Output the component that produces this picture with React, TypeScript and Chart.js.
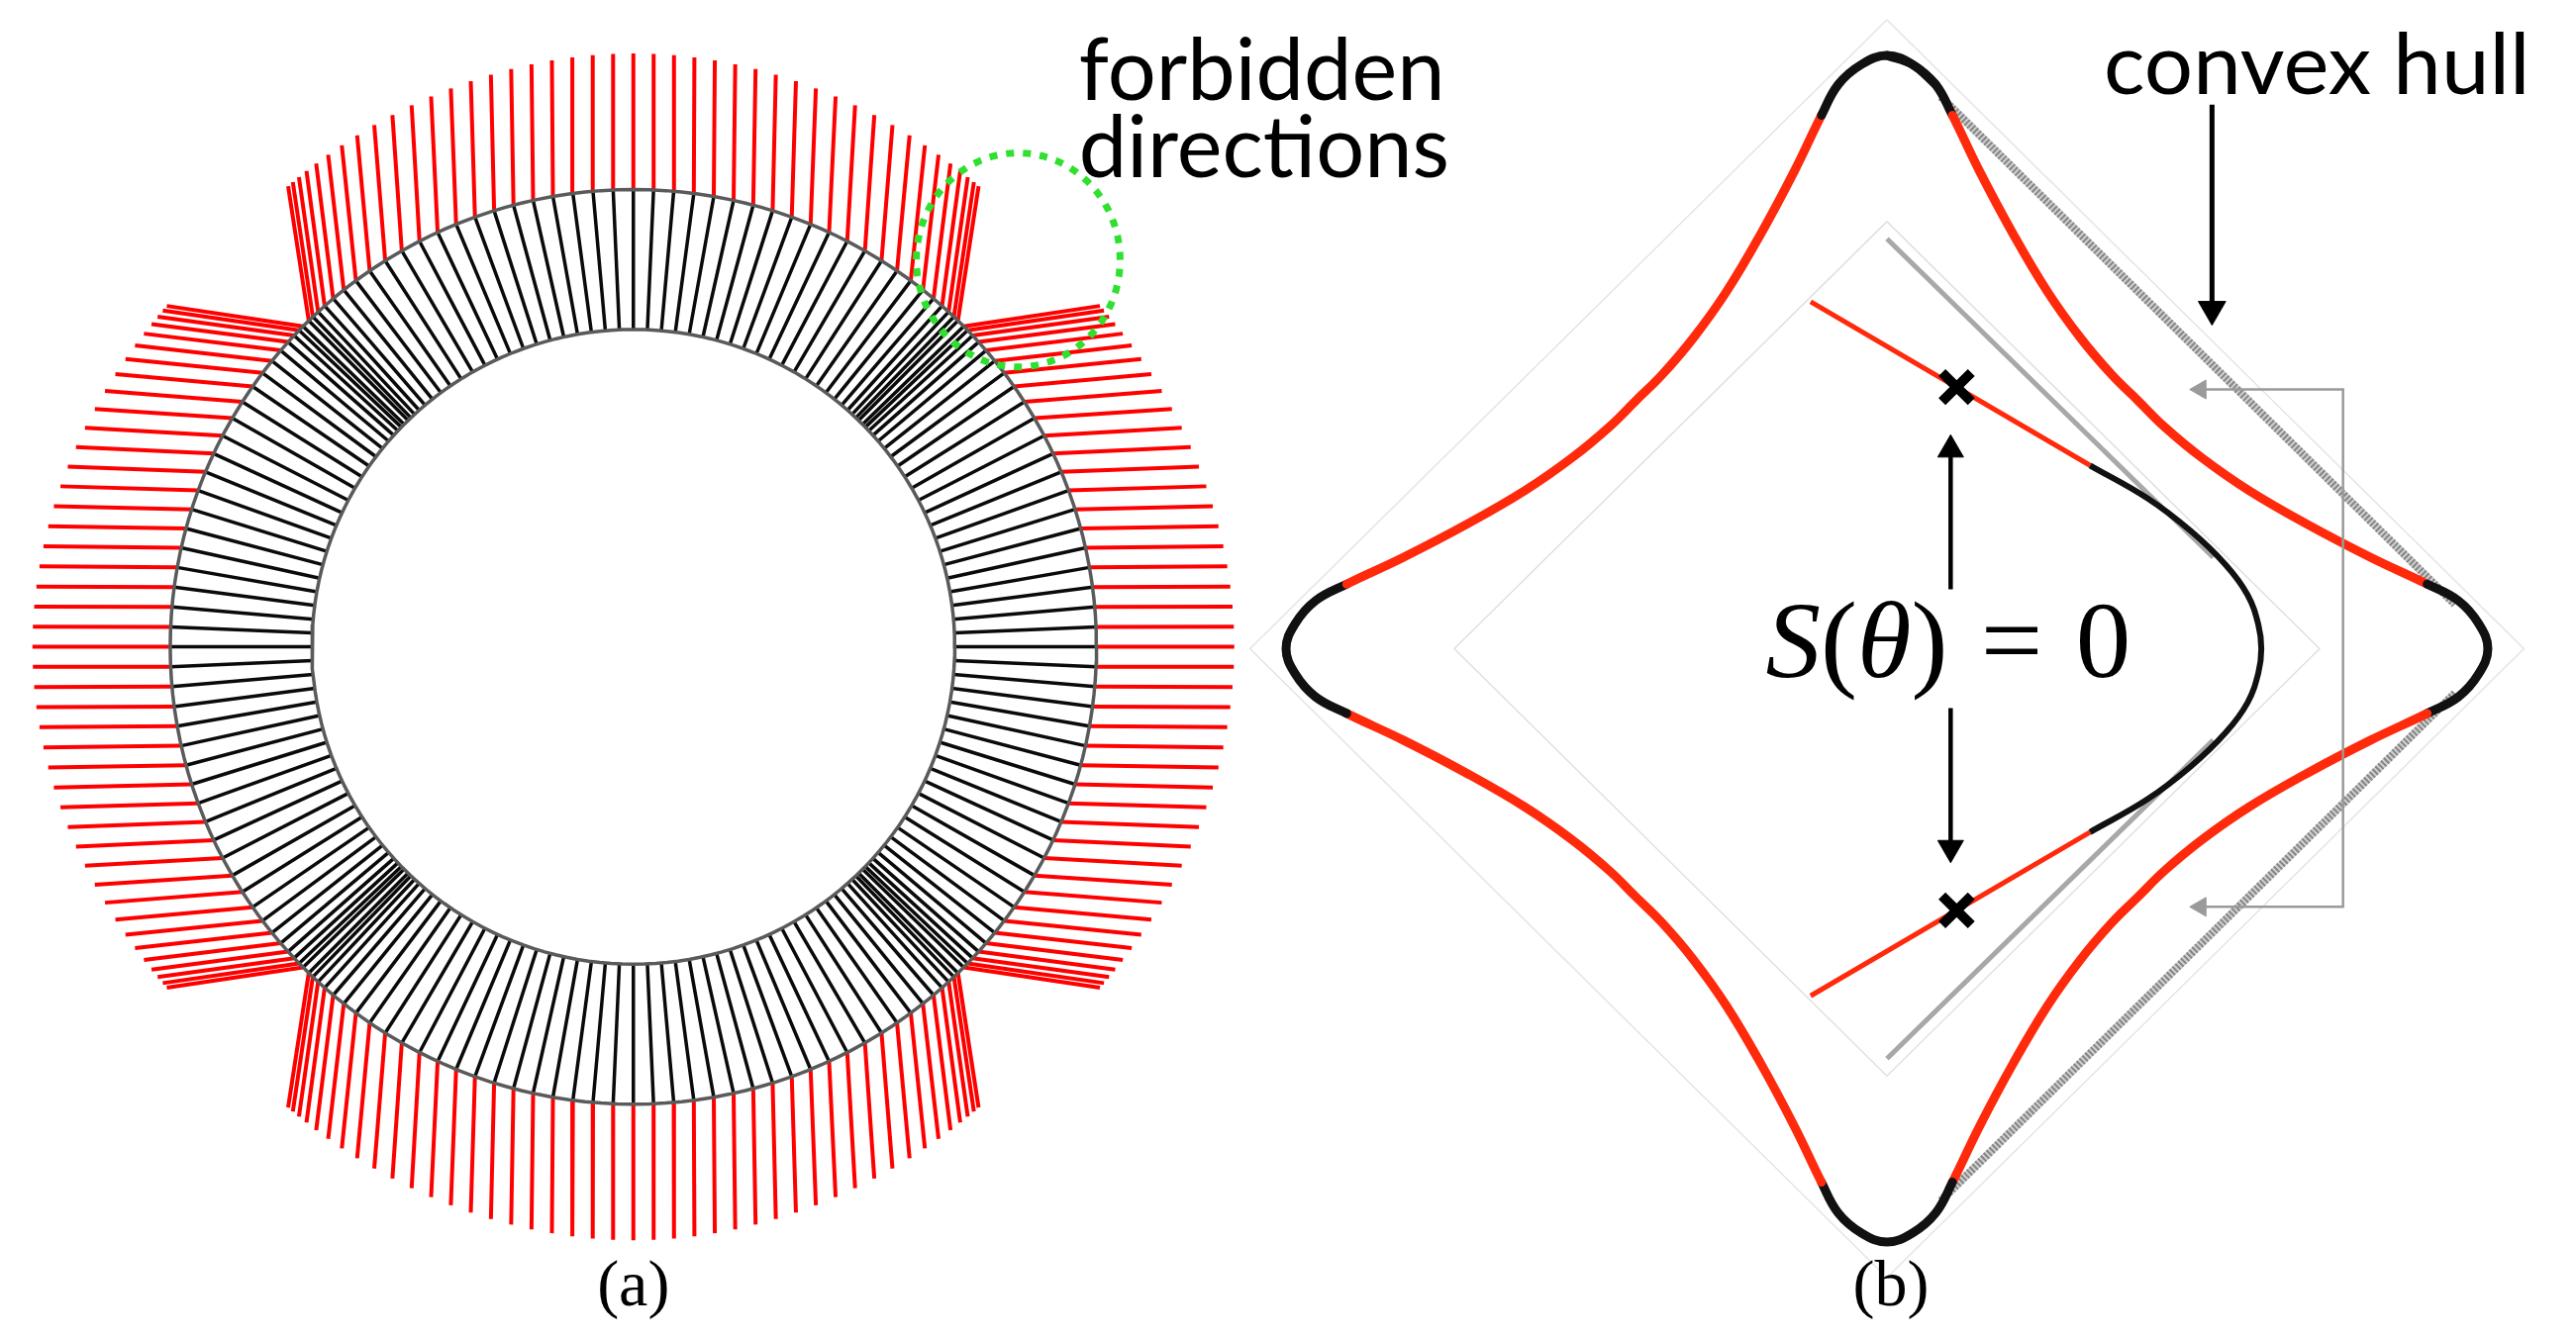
import React, { useEffect, useRef } from "react";
import { Chart, registerables } from "chart.js";

Chart.register(...registerables);

const CANVAS_W = 2602;
const CANVAS_H = 1353;

// ---------------- Panel (a): ring of sampled directions ----------------
// angular offsets (deg) of the spokes from the nearest axis, one octant (mirrored to all 8)
const SPOKE_OFFSETS_DEG = [
  0, 2.5, 5, 7.5, 10, 12.5, 15, 17.5, 20, 22.5, 25, 27.5, 30, 32.4, 34.7, 36.8, 38.7, 40.4, 41.8, 42.9,
  43.8, 44.5,
];
const QUADRANT_AXES_DEG = [0, 90, 180, 270];
const RING_RADII = [0.694, 1.0]; // inner, outer (outer ring = 1 unit)
const RED_STROKE_LENGTH = 0.2975;
const RED_TILT_DIVISOR = 230; // tilt of a red stroke (deg) = offset*|offset| / divisor
const FORBIDDEN_LOOP_CENTER = [0.831, 0.846];
const FORBIDDEN_LOOP_RADII = [0.22, 0.234];

// ---------------- Panel (b): star-shaped curve (tip radius = 1 unit) ----------------
// one eighth of the curve, from a tip towards the diagonal: lateral / axial coordinates
const STAR_LATERAL = [0, 0.042, 0.081, 0.109, 0.154, 0.21, 0.267, 0.322, 0.374, 0.418];
const STAR_AXIAL = [1, 0.985, 0.951, 0.899, 0.805, 0.699, 0.602, 0.524, 0.462, 0.418];
const STAR_TIP_HALF_WIDTH = 0.11;
// S(theta)=0 curve, upper half: first two points = red tangent segment, rest = black arc
const SCURVE_X = [-0.127, 0.338, 0.433, 0.506, 0.564, 0.6, 0.618, 0.623];
const SCURVE_Y = [0.585, 0.309, 0.254, 0.198, 0.141, 0.091, 0.041, 0];
const CROSS_X = [0.116, 0.116];
const CROSS_Y = [0.441, -0.441];
const GRAY_TANGENT_X = [0, 0.543];
const GRAY_TANGENT_Y = [0.691, 0.154];
const HULL_X = [0.09, 0.945];
const HULL_Y = [0.93, 0.075];
const INNER_FRAME_HALF = 0.72;
const OUTER_FRAME_HALF = 1.06;
const S_ARROW_X = 0.106;
const S_ARROW_Y = [0.1, 0.36]; // shaft start, tip
const HULL_ARROW_X = 0.541;
const HULL_ARROW_Y = [0.917, 0.546]; // shaft start, tip
const BRACKET_X = [0.504, 0.759];
const BRACKET_Y = [0.437, -0.435];

// ---------------- layout (pixel frames of the two panels) ----------------
const PANEL_A = { cx: 631, cy: 653, u: 474 };
const PANEL_B = { cx: 1914, cy: 655, u: 615 };

type P = { x: number; y: number | null };
const rad = (d: number) => (d * Math.PI) / 180;

function buildPanelA() {
  const spokes: P[] = [];
  const reds: P[] = [];
  const [rIn, rOut] = RING_RADII;
  for (const axis of QUADRANT_AXES_DEG) {
    for (const off of SPOKE_OFFSETS_DEG) {
      for (const s of off === 0 ? [1] : [1, -1]) {
        const phi = rad(axis + s * off);
        const psi = rad(axis + (s * off * off) / RED_TILT_DIVISOR);
        const ox = Math.cos(phi) * rOut;
        const oy = Math.sin(phi) * rOut;
        spokes.push({ x: Math.cos(phi) * rIn, y: Math.sin(phi) * rIn }, { x: ox, y: oy }, { x: ox, y: null });
        const ex = ox + Math.cos(psi) * RED_STROKE_LENGTH;
        const ey = oy + Math.sin(psi) * RED_STROKE_LENGTH;
        reds.push({ x: ox, y: oy }, { x: ex, y: ey }, { x: ex, y: null });
      }
    }
  }
  const circles: P[] = [];
  for (const r of RING_RADII) {
    for (let d = 0; d <= 360; d += 2) circles.push({ x: Math.cos(rad(d)) * r, y: Math.sin(rad(d)) * r });
    circles.push({ x: r, y: null });
  }
  const loop: P[] = [];
  for (let d = 0; d <= 360; d += 4) {
    loop.push({
      x: FORBIDDEN_LOOP_CENTER[0] + Math.cos(rad(d)) * FORBIDDEN_LOOP_RADII[0],
      y: FORBIDDEN_LOOP_CENTER[1] + Math.sin(rad(d)) * FORBIDDEN_LOOP_RADII[1],
    });
  }
  return { spokes, reds, circles, loop };
}

function buildStar() {
  // quarter arc from top tip (0,1) to right tip (1,0)
  const quarter: { x: number; y: number }[] = [];
  for (let i = 0; i < STAR_LATERAL.length; i++) quarter.push({ x: STAR_LATERAL[i], y: STAR_AXIAL[i] });
  for (let i = STAR_LATERAL.length - 2; i >= 0; i--) quarter.push({ x: STAR_AXIAL[i], y: STAR_LATERAL[i] });
  const pts: { x: number; y: number }[] = [];
  let arc = quarter;
  for (let q = 0; q < 4; q++) {
    const part = q === 0 ? arc : arc.slice(1);
    pts.push(...part);
    arc = arc.map((p) => ({ x: p.y, y: -p.x }));
  }
  pts.push(pts[1], pts[2]);
  const isTip = (p: { x: number; y: number }) => Math.min(Math.abs(p.x), Math.abs(p.y)) <= STAR_TIP_HALF_WIDTH;
  const colors = pts.map((p, i) => {
    const n = pts[Math.min(i + 1, pts.length - 1)];
    return isTip(p) && isTip(n) ? "#111111" : "#ff2a0c";
  });
  return { pts, colors };
}

function buildSCurve() {
  const redSegs: P[] = [];
  for (const s of [1, -1]) {
    redSegs.push({ x: SCURVE_X[0], y: s * SCURVE_Y[0] }, { x: SCURVE_X[1], y: s * SCURVE_Y[1] }, { x: SCURVE_X[1], y: null });
  }
  const black: P[] = [];
  for (let i = 1; i < SCURVE_X.length; i++) black.push({ x: SCURVE_X[i], y: SCURVE_Y[i] });
  for (let i = SCURVE_X.length - 2; i >= 1; i--) black.push({ x: SCURVE_X[i], y: -SCURVE_Y[i] });
  return { redSegs, black };
}

function buildCrosses(half: number) {
  const out: P[] = [];
  CROSS_X.forEach((x, i) => {
    const y = CROSS_Y[i];
    out.push({ x: x - half, y: y - half }, { x: x + half, y: y + half }, { x: x + half, y: null });
    out.push({ x: x - half, y: y + half }, { x: x + half, y: y - half }, { x: x + half, y: null });
  });
  return out;
}

const diamond = (h: number): P[] => [
  { x: 0, y: h },
  { x: h, y: 0 },
  { x: 0, y: -h },
  { x: -h, y: 0 },
  { x: 0, y: h },
];

const figureText = {
  id: "figureText",
  afterDatasetsDraw(chart: any) {
    const { ctx, scales } = chart;
    const X = (id: string, v: number) => scales[id].getPixelForValue(v);
    const unitPx = (id: string) => Math.abs(scales[id].getPixelForValue(1) - scales[id].getPixelForValue(0));
    ctx.save();
    ctx.fillStyle = "#000";
    ctx.textBaseline = "alphabetic";
    ctx.textAlign = "left";

    const sans = (s: number) => `400 ${s}px Lato, 'Open Sans', sans-serif`;
    // text drawn at a given font size, squeezed horizontally to a target width
    const squeezed = (lines: string[], xs: number, ys: number[], size: number, widthRef: string, width: number) => {
      ctx.font = sans(size);
      const k = width / ctx.measureText(widthRef).width;
      lines.forEach((t, i) => {
        ctx.save();
        ctx.translate(xs, ys[i]);
        ctx.scale(k, 1);
        ctx.fillText(t, 0, 0);
        ctx.restore();
      });
    };
    squeezed(
      ["forbidden", "directions"],
      X("xa", 0.962),
      [X("ya", 1.196), X("ya", 1.027)],
      88,
      "directions",
      0.8 * unitPx("xa")
    );
    squeezed(["convex hull"], X("xb", 0.361), [X("yb", 0.935)], 86, "convex hull", 0.709 * unitPx("xb"));

    // S(θ) = 0
    const serif = (s: number, it: boolean) => `${it ? "italic " : ""}400 ${s}px 'Liberation Serif', 'DejaVu Serif', serif`;
    const parts: { t: string; it: boolean; gap?: number }[] = [
      { t: "S", it: true },
      { t: "(", it: false },
      { t: "θ", it: true },
      { t: ")", it: false },
      { t: "", it: false, gap: 0.3 },
      { t: "=", it: false },
      { t: "", it: false, gap: 0.3 },
      { t: "0", it: false },
    ];
    const widthAt = (s: number) =>
      parts.reduce((acc, p) => {
        if (p.gap) return acc + p.gap * s;
        ctx.font = serif(s, p.it);
        return acc + ctx.measureText(p.t).width;
      }, 0);
    const target = 0.608 * unitPx("xb");
    const sSize = (100 * target) / widthAt(100);
    let cx = X("xb", 0.102) - target / 2;
    const by = X("yb", -0.047);
    for (const p of parts) {
      if (p.gap) {
        cx += p.gap * sSize;
        continue;
      }
      ctx.font = serif(sSize, p.it);
      ctx.fillText(p.t, cx, by);
      cx += ctx.measureText(p.t).width;
    }

    // panel labels
    ctx.textAlign = "center";
    ctx.font = serif(66, false);
    ctx.fillText("(a)", X("xa", 0), X("ya", -1.441));
    ctx.fillText("(b)", X("xb", 0.0065), X("yb", -1.107));
    ctx.restore();
  },
};

export default function App() {
  const ref = useRef<HTMLCanvasElement>(null);

  useEffect(() => {
    document.body.style.margin = "0";
    const canvas = ref.current;
    if (!canvas) return;

    const A = buildPanelA();
    const star = buildStar();
    const sc = buildSCurve();
    const u = PANEL_B.u;

    const lineA = (data: P[], color: string, width: number, extra: any = {}) => ({
      data,
      xAxisID: "xa",
      yAxisID: "ya",
      borderColor: color,
      borderWidth: width,
      pointRadius: 0,
      tension: 0,
      spanGaps: false,
      fill: false,
      ...extra,
    });
    const lineB = (data: P[], color: string, width: number, extra: any = {}) => ({
      data,
      xAxisID: "xb",
      yAxisID: "yb",
      borderColor: color,
      borderWidth: width,
      pointRadius: 0,
      tension: 0,
      spanGaps: false,
      fill: false,
      ...extra,
    });
    const headsB = (data: P[], color: string, r: number, rotation: number) => ({
      data,
      xAxisID: "xb",
      yAxisID: "yb",
      showLine: false,
      pointStyle: "triangle",
      pointRadius: r,
      pointRotation: rotation,
      pointBackgroundColor: color,
      pointBorderColor: color,
      pointBorderWidth: 1,
    });
    const hullData: P[] = [
      { x: HULL_X[0], y: HULL_Y[0] },
      { x: HULL_X[1], y: HULL_Y[1] },
      { x: HULL_X[1], y: null },
      { x: HULL_X[1], y: -HULL_Y[1] },
      { x: HULL_X[0], y: -HULL_Y[0] },
    ];

    const datasets: any[] = [
      // panel (a)
      lineA(A.reds, "#ff0000", 4),
      lineA(A.spokes, "#0a0a0a", 3.5),
      lineA(A.circles, "#5a5a5a", 3.5),
      lineA(A.loop, "#2fe02f", 7, { borderDash: [8, 9] }),
      // panel (b) frames and hull
      lineB(diamond(OUTER_FRAME_HALF), "#e4e4e4", 1.5),
      lineB(diamond(INNER_FRAME_HALF), "#e0e0e0", 1.5),
      lineB(hullData, "#d0d0d0", 8),
      lineB(hullData, "#858585", 8, { borderDash: [2, 2] }),
      lineB(
        [
          { x: GRAY_TANGENT_X[0], y: GRAY_TANGENT_Y[0] },
          { x: GRAY_TANGENT_X[1], y: GRAY_TANGENT_Y[1] },
          { x: GRAY_TANGENT_X[1], y: null },
          { x: GRAY_TANGENT_X[0], y: -GRAY_TANGENT_Y[0] },
          { x: GRAY_TANGENT_X[1], y: -GRAY_TANGENT_Y[1] },
        ],
        "#a8a8a8",
        5
      ),
      // star curve
      lineB(star.pts, "#ff2a0c", 9, {
        tension: 0.4,
        borderJoinStyle: "round",
        borderCapStyle: "round",
        segment: { borderColor: (c: any) => star.colors[c.p0DataIndex] },
      }),
      // S(θ)=0 curve
      lineB(sc.redSegs, "#ff2a0c", 5),
      lineB(sc.black, "#111111", 6, { tension: 0.4, borderJoinStyle: "round" }),
      // arrows around S(θ)=0
      lineB(
        [
          { x: S_ARROW_X, y: S_ARROW_Y[0] },
          { x: S_ARROW_X, y: S_ARROW_Y[1] - 12 / u },
          { x: S_ARROW_X, y: null },
          { x: S_ARROW_X, y: -S_ARROW_Y[0] },
          { x: S_ARROW_X, y: -S_ARROW_Y[1] + 12 / u },
        ],
        "#000000",
        4.5
      ),
      headsB([{ x: S_ARROW_X, y: S_ARROW_Y[1] - 15 / u }], "#000000", 15, 0),
      headsB([{ x: S_ARROW_X, y: -S_ARROW_Y[1] + 15 / u }], "#000000", 15, 180),
      // crosses
      lineB(buildCrosses(15 / u), "#000000", 10),
      // gray bracket
      lineB(
        [
          { x: BRACKET_X[0] + 8 / u, y: BRACKET_Y[0] },
          { x: BRACKET_X[1], y: BRACKET_Y[0] },
          { x: BRACKET_X[1], y: BRACKET_Y[1] },
          { x: BRACKET_X[0] + 8 / u, y: BRACKET_Y[1] },
        ],
        "#9a9a9a",
        2.5
      ),
      headsB(
        [
          { x: BRACKET_X[0] + 11 / u, y: BRACKET_Y[0] },
          { x: BRACKET_X[0] + 11 / u, y: BRACKET_Y[1] },
        ],
        "#9a9a9a",
        11,
        -90
      ),
      // convex hull arrow
      lineB(
        [
          { x: HULL_ARROW_X, y: HULL_ARROW_Y[0] },
          { x: HULL_ARROW_X, y: HULL_ARROW_Y[1] + 14 / u },
        ],
        "#000000",
        5
      ),
      headsB([{ x: HULL_ARROW_X, y: HULL_ARROW_Y[1] + 16 / u }], "#000000", 16, 180),
    ];
    // first in list is drawn first (bottom)
    datasets.forEach((d, i) => (d.order = datasets.length - i));

    const hidden = { display: false, type: "linear" as const };
    const chart = new Chart(canvas, {
      type: "line",
      data: { datasets },
      plugins: [figureText],
      options: {
        animation: false,
        responsive: false,
        devicePixelRatio: 1,
        events: [],
        layout: { padding: 0 },
        plugins: { legend: { display: false }, tooltip: { enabled: false }, title: { display: false } },
        scales: {
          xa: { ...hidden, min: -PANEL_A.cx / PANEL_A.u, max: (CANVAS_W - PANEL_A.cx) / PANEL_A.u },
          ya: { ...hidden, min: -(CANVAS_H - PANEL_A.cy) / PANEL_A.u, max: PANEL_A.cy / PANEL_A.u },
          xb: { ...hidden, min: -PANEL_B.cx / PANEL_B.u, max: (CANVAS_W - PANEL_B.cx) / PANEL_B.u },
          yb: { ...hidden, min: -(CANVAS_H - PANEL_B.cy) / PANEL_B.u, max: PANEL_B.cy / PANEL_B.u },
        },
      } as any,
    });
    return () => chart.destroy();
  }, []);

  return (
    <div style={{ width: CANVAS_W, height: CANVAS_H, overflow: "hidden", background: "#ffffff" }}>
      <canvas ref={ref} width={CANVAS_W} height={CANVAS_H} style={{ display: "block", width: CANVAS_W, height: CANVAS_H }} />
    </div>
  );
}
